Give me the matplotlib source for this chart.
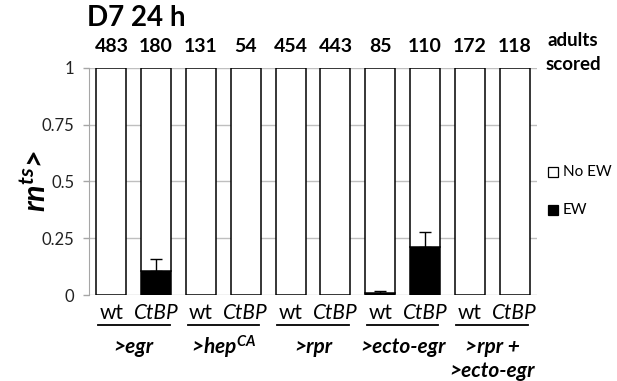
import numpy as np
import matplotlib
matplotlib.use("Agg")
import matplotlib.pyplot as plt
from matplotlib.patches import Rectangle

plt.rcParams['font.family'] = ['Lato', 'DejaVu Sans']
plt.rcParams['mathtext.fontset'] = 'custom'
plt.rcParams['mathtext.bfit'] = 'Lato:bold:italic'
plt.rcParams['mathtext.it'] = 'Lato:italic'
plt.rcParams['mathtext.rm'] = 'Lato'

# ---- data ----
genotypes = ['wt', 'CtBP', 'wt', 'CtBP', 'wt', 'CtBP', 'wt', 'CtBP', 'wt', 'CtBP']
groups = ['>egr', '>hep', '>rpr', '>ecto-egr', '>rpr +\n>ecto-egr']
counts = [483, 180, 131, 54, 454, 443, 85, 110, 172, 118]
ew = [0.0, 0.106, 0.0, 0.0, 0.0, 0.0, 0.008, 0.21, 0.0, 0.0]
ew_err = [0.0, 0.053, 0.0, 0.0, 0.0, 0.0, 0.010, 0.068, 0.0, 0.0]
yticks = [0, 0.25, 0.5, 0.75, 1]
ytick_labels = ['0', '0.25', '0.5', '0.75', '1']

W, H = 617, 381
fig = plt.figure(figsize=(W / 100, H / 100), dpi=100)
ax = fig.add_axes([89 / W, 1 - 295 / H, (537 - 89) / W, (295 - 67.7) / H])

x = np.arange(len(counts))
ew_arr = np.array(ew)
noew = 1 - ew_arr
ax.bar(x, ew_arr, width=0.67, color='black', edgecolor='black', linewidth=1.1, zorder=3)
ax.bar(x, noew, bottom=ew_arr, width=0.67, color='white', edgecolor='black', linewidth=1.1, zorder=3)
err_mask = np.array(ew_err) > 0
ax.errorbar(x[err_mask], ew_arr[err_mask],
            yerr=[np.zeros(err_mask.sum()), np.array(ew_err)[err_mask]],
            fmt='none', ecolor='black', elinewidth=1.0, capsize=4, capthick=1.0, zorder=4)

ax.set_xlim(-0.5, len(counts) - 0.5)
ax.set_ylim(0, 1)
ax.set_yticks(yticks)
ax.set_yticklabels(ytick_labels, fontsize=12, color='#222222')
ax.set_xticks([])
ax.yaxis.grid(True, color='#bfbfbf', linewidth=1.0, zorder=0)
ax.set_axisbelow(True)
for s in ['top', 'right', 'bottom']:
    ax.spines[s].set_visible(False)
ax.spines['left'].set_color('#a6a6a6')
ax.tick_params(axis='y', length=4.5, color='#a6a6a6', width=1.0, pad=6)
ax.set_facecolor('none')

# counts above bars
for xi, c in zip(x, counts):
    ax.text(xi, 1.095, str(c), ha='center', va='center', fontsize=14, fontweight='bold')

fig.text(573 / W, 1 - 40 / H, 'adults', ha='center', va='center', fontsize=13.5, fontweight='bold')
fig.text(573 / W, 1 - 65 / H, 'scored', ha='center', va='center', fontsize=13.5, fontweight='bold')

# title
fig.text(87 / W, 1 - 18 / H, 'D7 24 h', ha='left', va='center', fontsize=20, fontweight='bold')

# genotype labels
trans = ax.get_xaxis_transform()
for xi, g in zip(x, genotypes):
    ax.text(xi, -0.08, g, transform=trans, ha='center', va='center', fontsize=15,
            fontstyle='italic' if g != 'wt' else 'normal', clip_on=False)

# group lines and labels
for gi, gname in enumerate(groups):
    c = 2 * gi + 0.5
    ax.plot([c - 0.8, c + 0.8], [-0.133, -0.133], transform=trans, color='black',
            linewidth=1.3, clip_on=False)
    if gname == '>hep':
        ax.text(c, -0.23, r'>$\mathbfit{hep}^{\mathbfit{CA}}$', transform=trans, ha='center',
                va='center', fontsize=15, fontweight='bold', fontstyle='italic', clip_on=False)
    elif '\n' in gname:
        l1, l2 = gname.split('\n')
        ax.text(c, -0.23, l1, transform=trans, ha='center', va='center', fontsize=15,
                fontweight='bold', fontstyle='italic', clip_on=False)
        ax.text(c, -0.335, l2, transform=trans, ha='center', va='center', fontsize=15,
                fontweight='bold', fontstyle='italic', clip_on=False)
    else:
        ax.text(c, -0.23, gname, transform=trans, ha='center', va='center', fontsize=15,
                fontweight='bold', fontstyle='italic', clip_on=False)

# y label
fig.text(36 / W, 1 - 181 / H, r'$\mathbfit{rn}^{\mathbfit{ts}}$>', rotation=90, ha='center',
         va='center', fontsize=22, fontweight='bold', fontstyle='italic')

# legend
sq = 10
for label, color, yc in [('No EW', 'white', 172), ('EW', 'black', 210)]:
    fig.patches.append(Rectangle((548 / W, 1 - (yc + sq / 2) / H), sq / W, sq / H,
                                 transform=fig.transFigure, facecolor=color,
                                 edgecolor='black', linewidth=0.9))
    fig.text(563 / W, 1 - yc / H, label, ha='left', va='center', fontsize=11)

fig.savefig('out.png', dpi=100)
